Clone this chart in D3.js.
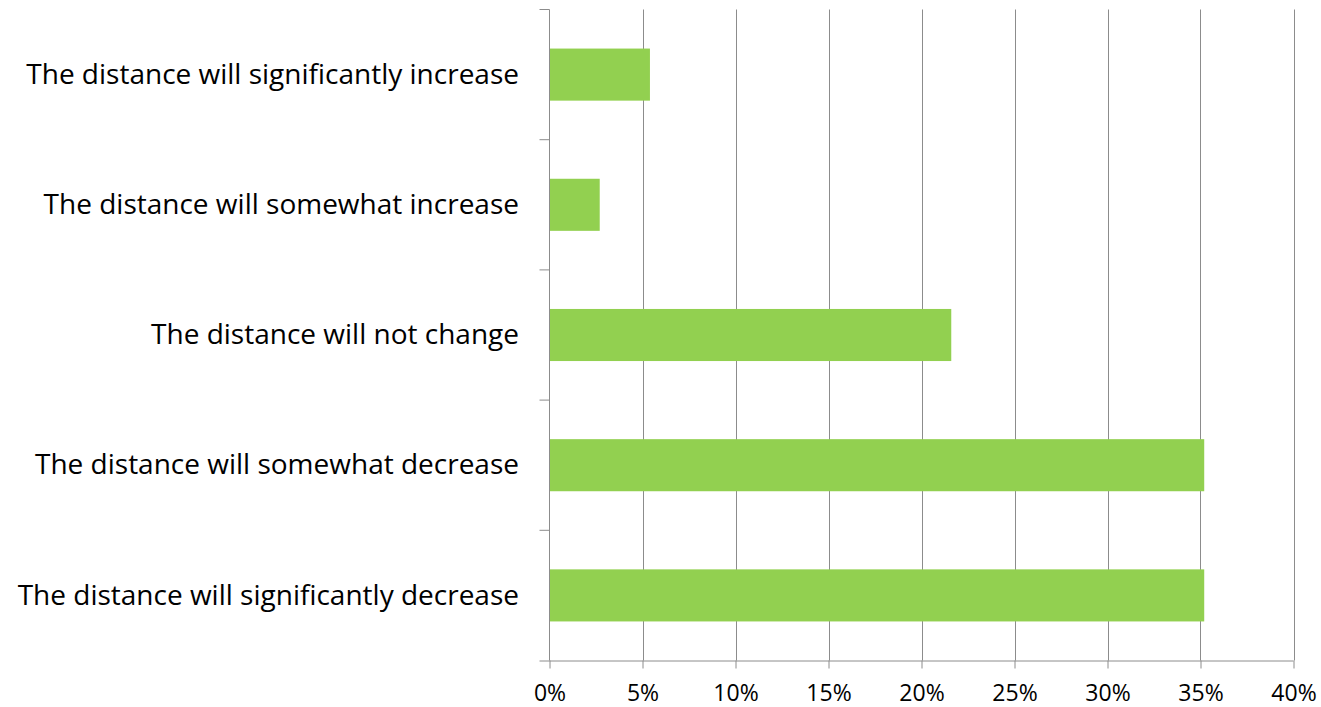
<!DOCTYPE html>
<html>
<head>
<meta charset="utf-8">
<script src="https://cdn.jsdelivr.net/npm/d3@7"></script>
<style>
  html, body { margin: 0; padding: 0; background: #fff; }
  svg { display: block; }
  text { font-family: "Open Sans", Lato, sans-serif; fill: #000; }
</style>
</head>
<body>
<svg id="chart" width="1321" height="707"></svg>
<script>
// Survey answers, listed top to bottom
const categories = [
  "The distance will significantly increase",
  "The distance will somewhat increase",
  "The distance will not change",
  "The distance will somewhat decrease",
  "The distance will significantly decrease"
];
const shares = [0.054, 0.027, 0.216, 0.352, 0.352];
const tickValues = [0, 0.05, 0.10, 0.15, 0.20, 0.25, 0.30, 0.35, 0.40];

const svg = d3.select("#chart");
const plotLeft = 549.5, plotRight = 1293.5, plotTop = 9.5, plotBottom = 660.5;

const x = d3.scaleLinear().domain([0, 0.4]).range([plotLeft, plotRight]);
const y = d3.scaleBand().domain(categories).range([plotTop, plotBottom]).paddingInner(0.6).paddingOuter(0.3);
const band = d3.scaleBand().domain(categories).range([plotTop, plotBottom]);

const gridColor = "#8c8c8c";

// vertical gridlines
svg.append("g").selectAll("line")
  .data(tickValues.slice(1))
  .join("line")
  .attr("x1", d => Math.round(x(d)) + 0.5).attr("x2", d => Math.round(x(d)) + 0.5)
  .attr("y1", plotTop).attr("y2", plotBottom)
  .attr("stroke", gridColor).attr("stroke-width", 1);

// bars
svg.append("g").selectAll("rect")
  .data(categories.map((c, i) => ({ c, v: shares[i] })))
  .join("rect")
  .attr("x", x(0))
  .attr("y", d => y(d.c))
  .attr("width", d => x(d.v) - x(0))
  .attr("height", y.bandwidth())
  .attr("fill", "#92d050");

// x axis
const xAxis = d3.axisBottom(x)
  .tickValues(tickValues)
  .tickFormat(d3.format(".0%"))
  .tickSize(8)
  .tickPadding(16);
const gx = svg.append("g").attr("transform", `translate(0,${plotBottom})`).call(xAxis);
gx.select(".domain").attr("stroke", gridColor).attr("d", `M${plotLeft - 10},0.5H${plotRight}`);
gx.selectAll(".tick line").attr("stroke", gridColor);
gx.selectAll(".tick text").attr("font-size", 23).style("font-family", "'Open Sans', Lato, sans-serif");

// y axis line with category boundary ticks
const gy = svg.append("g");
gy.append("line")
  .attr("x1", plotLeft).attr("x2", plotLeft).attr("y1", plotTop).attr("y2", plotBottom)
  .attr("stroke", gridColor);
gy.selectAll("line.bt")
  .data(categories)
  .join("line")
  .attr("class", "bt")
  .attr("x1", plotLeft - 10).attr("x2", plotLeft)
  .attr("y1", d => band(d)).attr("y2", d => band(d))
  .attr("stroke", gridColor);

// category labels
gy.selectAll("text")
  .data(categories)
  .join("text")
  .attr("x", 519)
  .attr("y", d => band(d) + band.bandwidth() / 2)
  .attr("dy", "0.33em")
  .attr("text-anchor", "end")
  .attr("font-size", 28)
  .text(d => d);
</script>
</body>
</html>
